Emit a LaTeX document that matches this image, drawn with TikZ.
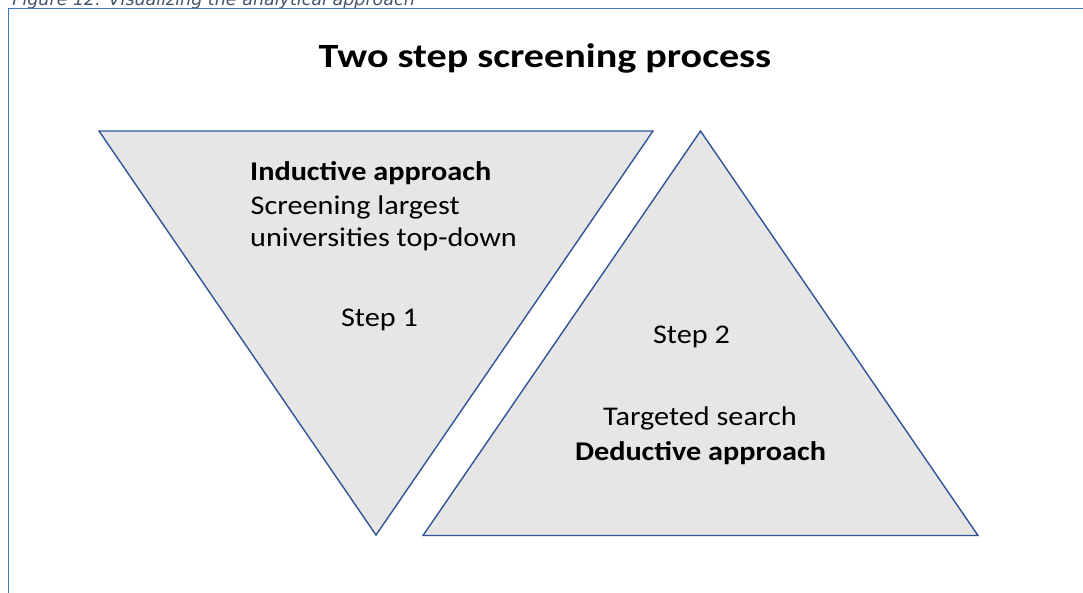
\documentclass[tikz,border=0pt]{standalone}
\usepackage{fontspec}
\setmainfont{Carlito}
\newfontfamily\bodyfont{Carlito}[FakeStretch=1.12]
\newfontfamily\titlefont{Carlito}[FakeStretch=1.18]
\newfontfamily\capfont{DejaVu Sans}
\definecolor{triline}{HTML}{2F5597}
\definecolor{trifill}{HTML}{E6E6E6}
\definecolor{framecol}{HTML}{4472C4}
\definecolor{capcol}{HTML}{44546A}
\begin{document}
\begin{tikzpicture}[x=1pt,y=-1pt,
  tri/.style={draw=triline,fill=trifill,line width=1.4pt,line join=miter},
  body/.style={inner sep=0pt,font=\bodyfont\fontsize{27}{33}\selectfont},
  bodyb/.style={inner sep=0pt,font=\bodyfont\fontsize{27}{33}\selectfont\bfseries},
  ttl/.style={inner sep=0pt,font=\titlefont\fontsize{34}{40}\selectfont\bfseries}]
\useasboundingbox (0,0) rectangle (1083,592);
\clip (0,0) rectangle (1083,592);
% caption (cut off at top)
\node[inner sep=0pt,anchor=base east,text=capcol,font=\capfont\itshape\fontsize{17.5}{20}\selectfont] (cap) at (415,5) {Figure 12: Visualizing the analytical approach};
% frame
\draw[framecol,line width=1.4pt] (8.5,600) -- (8.5,8.5) -- (1090,8.5);
% title
\node[ttl,anchor=base] (title) at (545,67) {Two step screening process};
% triangles
\draw[tri] (99,131) -- (653,131) -- (376,535) -- cycle;
\draw[tri] (700.5,131) -- (978,535.5) -- (423,535.5) -- cycle;
% texts step 1
\node[bodyb,anchor=base west] (ind) at (250,180) {Inductive approach};
\node[body,anchor=base west] (scr) at (250.5,214) {Screening largest};
\node[body,anchor=base west] (uni) at (250,246.5) {universities top-down};
\node[body,anchor=base] (s1) at (379.5,326.5) {Step 1};
% texts step 2
\node[body,anchor=base] (s2) at (691.5,343) {Step 2};
\node[body,anchor=base] (tar) at (700,425.5) {Targeted search};
\node[bodyb,anchor=base] (ded) at (700.5,460) {Deductive approach};
\end{tikzpicture}
\end{document}
